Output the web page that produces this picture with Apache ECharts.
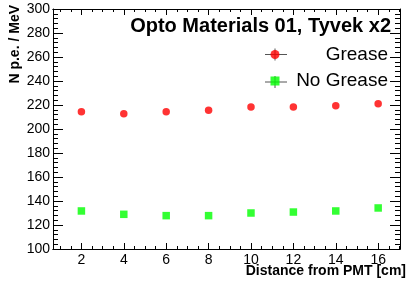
<!DOCTYPE html>
<html>
<head>
<meta charset="utf-8">
<script src="https://cdn.jsdelivr.net/npm/echarts@6/dist/echarts.min.js"></script>
<style>
	html, body { margin: 0; padding: 0; background: #fff; }
	#chart { width: 408px; height: 284px; }
</style>
</head>
<body>
<div id="chart"></div>
<script>
	// distances (cm) and light yield (p.e./MeV)
	var distances = [2, 4, 6, 8, 10, 12, 14, 16];
	var greaseValues = [214.4, 212.8, 214.4, 215.6, 218.3, 218.3, 219.4, 221.1];
	var noGreaseValues = [131.7, 128.9, 127.8, 127.8, 130.0, 130.8, 131.7, 134.2];

	var xMajorTicks = [2, 4, 6, 8, 10, 12, 14, 16];
	var xMinorTicks = [1, 1.5, 2.5, 3, 3.5, 4.5, 5, 5.5, 6.5, 7, 7.5, 8.5, 9, 9.5,
		10.5, 11, 11.5, 12.5, 13, 13.5, 14.5, 15, 15.5, 16.5, 17];

	var FONT = 'Liberation Sans';
	var X_MIN = 0.66, X_MAX = 17.03;

	function pairs(xs, ys) {
		return xs.map(function(x, i) { return [x, ys[i]]; });
	}

	function xAxisDef(pos, ticks, len, labels) {
		return {
			type: 'value',
			position: pos,
			min: X_MIN,
			max: X_MAX,
			axisLine: { show: true, onZero: false, lineStyle: { color: '#000', width: 1 } },
			axisTick: { show: true, inside: true, length: len, customValues: ticks, lineStyle: { color: '#000' } },
			axisLabel: labels ? {
				show: true, customValues: xMajorTicks, margin: 4,
				color: '#000', fontFamily: FONT, fontSize: 14
			} : { show: false },
			splitLine: { show: false }
		};
	}

	function yAxisDef(pos, labels) {
		return {
			type: 'value',
			position: pos,
			min: 100,
			max: 300,
			interval: 20,
			axisLine: { show: true, lineStyle: { color: '#000', width: 1 } },
			axisTick: { show: true, inside: true, length: 10, lineStyle: { color: '#000' } },
			minorTick: { show: true, splitNumber: 5, length: 5, lineStyle: { color: '#000' } },
			axisLabel: labels ? {
				show: true, margin: 3, color: '#000', fontFamily: FONT, fontSize: 14
			} : { show: false },
			splitLine: { show: false }
		};
	}

	var chart = echarts.init(document.getElementById('chart'), null, { renderer: 'canvas' });

	chart.setOption({
		animation: false,
		backgroundColor: '#fff',
		grid: { left: 53, right: 8, top: 9, bottom: 35, containLabel: false },
		title: {
			text: 'Opto Materials 01, Tyvek x2',
			right: 17,
			top: 16,
			padding: 0,
			textStyle: { fontFamily: FONT, fontSize: 20, fontWeight: 'bold', color: '#000' }
		},
		legend: {
			orient: 'vertical',
			left: 270.5,
			top: 45,
			padding: 0,
			itemWidth: 9,
			itemHeight: 9,
			itemGap: 7.5,
			z: 5,
			data: ['Grease', 'No Grease'],
			formatter: function(name) { return '{t|' + name + '}'; },
			textStyle: {
				rich: {
					t: { width: 103.5, align: 'right', fontFamily: FONT, fontSize: 19, lineHeight: 20, color: '#000' }
				}
			}
		},
		graphic: [
			{ type: 'line', z: 1, shape: { x1: 265, y1: 54.5, x2: 287, y2: 54.5 }, style: { stroke: '#555', lineWidth: 1 } },
			{ type: 'line', z: 1, shape: { x1: 275, y1: 48.5, x2: 275, y2: 60.5 }, style: { stroke: '#555', lineWidth: 1 } },
			{ type: 'line', z: 1, shape: { x1: 265, y1: 82, x2: 287, y2: 82 }, style: { stroke: '#555', lineWidth: 1 } },
			{ type: 'line', z: 1, shape: { x1: 275, y1: 76, x2: 275, y2: 88 }, style: { stroke: '#555', lineWidth: 1 } },
			{
				type: 'text', x: 15, y: 5, rotation: Math.PI / 2,
				style: { text: 'N p.e. / MeV', align: 'right', verticalAlign: 'middle',
					fontFamily: FONT, fontSize: 14, fontWeight: 'bold', fill: '#000' }
			},
			{
				type: 'text', x: 406, y: 271,
				style: { text: 'Distance from PMT [cm]', align: 'right', verticalAlign: 'middle',
					fontFamily: FONT, fontSize: 14, fontWeight: 'bold', fill: '#000' }
			}
		],
		xAxis: [
			xAxisDef('bottom', xMajorTicks, 6, true),
			xAxisDef('bottom', xMinorTicks, 3, false),
			xAxisDef('top', xMajorTicks, 6, false),
			xAxisDef('top', xMinorTicks, 3, false)
		],
		yAxis: [
			yAxisDef('left', true),
			yAxisDef('right', false)
		],
		series: [
			{
				name: 'Grease',
				type: 'scatter',
				symbol: 'circle',
				symbolSize: 7.5,
				itemStyle: { color: '#ff0000' },
				data: pairs(distances, greaseValues)
			},
			{
				name: 'No Grease',
				type: 'scatter',
				symbol: 'rect',
				symbolSize: 7.5,
				itemStyle: { color: '#00ff00' },
				data: pairs(distances, noGreaseValues)
			}
		]
	});
</script>
</body>
</html>
